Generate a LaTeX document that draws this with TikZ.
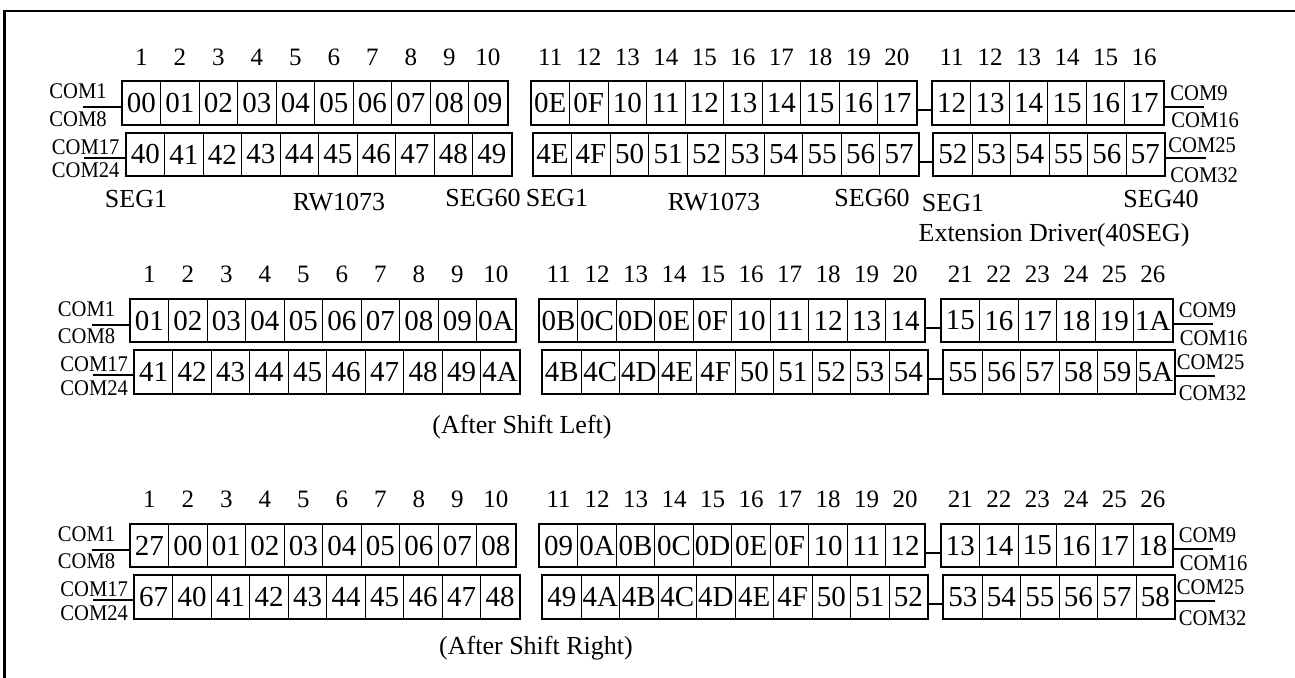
\documentclass[tikz,border=0pt]{standalone}
\usepackage{fontspec}
\setmainfont{Liberation Serif}
\newfontfamily\comfont[FakeStretch=0.92]{Liberation Serif}
\usetikzlibrary{positioning,fit}

% one row of display RAM cells: name, left x, top y, last cell, texts
\newcommand{\memrow}[5]{%
  \foreach \txt [count=\i] in {#5}
    \node[cell] (#1\i) at ({#2+(\i-0.5)*38.5},{#3+21.25}) {\txt};
  \node[rowbox,fit=(#11)(#1#4)] (#1) {};
}
% segment numbers above a row: row name, header name, numbers
\newcommand{\memhead}[3]{%
  \foreach \h [count=\i] in {#3}
    \node[hdr,above=7.75pt of #1\i] (#2\i) {\h};
}
% COM labels and wires of one section: section, top y, x shift
\newcommand{\comwires}[3]{%
  \node[com] (#1c1) at ({49+#3},{#2+17}) {COM1};
  \node[com] (#1c8) at ({49+#3},{#2+44.5}) {COM8};
  \node[com] (#1c17) at ({51.5+#3},{#2+72.5}) {COM17};
  \node[com] (#1c24) at ({51.5+#3},{#2+96}) {COM24};
  \node[com] (#1c9) at ({1170+#3},{#2+18.5}) {COM9};
  \node[com] (#1c16) at ({1171+#3},{#2+46}) {COM16};
  \node[com] (#1c25) at ({1168+#3},{#2+70.5}) {COM25};
  \node[com] (#1c32) at ({1170+#3},{#2+101}) {COM32};
  \coordinate (#1la) at ({83+#3},{#2+25.3});
  \coordinate (#1lb) at ({84+#3},{#2+76});
  \coordinate (#1ra) at ({1204+#3},{#2+25});
  \coordinate (#1rb) at ({1206+#3},{#2+76.5});
  \draw[wire] (#1la) -- (#1la -| #11a.west);
  \draw[wire] (#1lb) -- (#1lb -| #11b.west);
  \draw[wire] (#13a.east |- #1ra) -- (#1ra);
  \draw[wire] (#13b.east |- #1rb) -- (#1rb);
  \draw[wire] (#12a10.-20) -- (#13a1.200);
  \draw[wire] (#12b10.-20) -- (#13b1.200);
}

\begin{document}
\begin{tikzpicture}[x=0.5pt,y=-0.5pt,
  cell/.style={draw,line width=0.5pt,minimum width=19.25pt,minimum height=21.25pt,
    inner sep=0pt,font=\fontsize{14.5}{15}\selectfont},
  rowbox/.style={draw,line width=1pt,inner sep=0pt},
  hdr/.style={inner sep=0pt,font=\fontsize{12.5}{13}\selectfont},
  com/.style={inner sep=0pt,anchor=base west,font=\comfont\fontsize{11.2}{12}\selectfont},
  lbl/.style={inner sep=0pt,anchor=base,font=\fontsize{13}{14}\selectfont},
  wire/.style={line width=1pt}]
  \useasboundingbox (0,0) rectangle (1295,678);
  \draw[line width=1.25pt] (4.5,678) -- (4.5,11) -- (1295,11);

  % before shifting
  \memrow{A1a}{122}{81.7}{10}{00,01,02,03,04,05,06,07,08,09}
  \memrow{A1b}{126}{133.2}{10}{40,41,42,43,44,45,46,47,48,49}
  \memrow{A2a}{531}{81.7}{10}{0E,0F,10,11,12,13,14,15,16,17}
  \memrow{A2b}{533.3}{133.2}{10}{4E,4F,50,51,52,53,54,55,56,57}
  \memrow{A3a}{932.3}{81.7}{6}{12,13,14,15,16,17}
  \memrow{A3b}{933.7}{133.2}{6}{52,53,54,55,56,57}
  \memhead{A1a}{A1h}{1,...,10}
  \memhead{A2a}{A2h}{11,...,20}
  \memhead{A3a}{A3h}{11,...,16}
  \comwires{A}{81.7}{0}
  \node[lbl] (A1seg1) at (136,208) {SEG1};
  \node[lbl] (A1rw) at (339,211) {RW1073};
  \node[lbl] (A1seg60) at (483,207) {SEG60};
  \node[lbl] (A2seg1) at (557,207) {SEG1};
  \node[lbl] (A2rw) at (714,211) {RW1073};
  \node[lbl] (A2seg60) at (872,207) {SEG60};
  \node[lbl] (A3seg1) at (953,212) {SEG1};
  \node[lbl] (A3seg40) at (1161,208) {SEG40};
  \node[lbl] (A3drv) at (1054,242) {Extension Driver(40SEG)};

  % after shift left
  \memrow{L1a}{130}{299.3}{10}{01,02,03,04,05,06,07,08,09,0A}
  \memrow{L1b}{134.3}{350.8}{10}{41,42,43,44,45,46,47,48,49,4A}
  \memrow{L2a}{539.4}{299.3}{10}{0B,0C,0D,0E,0F,10,11,12,13,14}
  \memrow{L2b}{542.5}{350.8}{10}{4B,4C,4D,4E,4F,50,51,52,53,54}
  \memrow{L3a}{941}{299.3}{6}{15,16,17,18,19,1A}
  \memrow{L3b}{943.5}{350.8}{6}{55,56,57,58,59,5A}
  \memhead{L1a}{L1h}{1,...,10}
  \memhead{L2a}{L2h}{11,...,20}
  \memhead{L3a}{L3h}{21,...,26}
  \comwires{L}{299.3}{8.5}
  \node[lbl,anchor=center] (Lnote) at (522,427) {(After Shift Left)};

  % after shift right
  \memrow{R1a}{130}{524.3}{10}{27,00,01,02,03,04,05,06,07,08}
  \memrow{R1b}{134.3}{575.8}{10}{67,40,41,42,43,44,45,46,47,48}
  \memrow{R2a}{539.4}{524.3}{10}{09,0A,0B,0C,0D,0E,0F,10,11,12}
  \memrow{R2b}{542.5}{575.8}{10}{49,4A,4B,4C,4D,4E,4F,50,51,52}
  \memrow{R3a}{941}{524.3}{6}{13,14,15,16,17,18}
  \memrow{R3b}{943.5}{575.8}{6}{53,54,55,56,57,58}
  \memhead{R1a}{R1h}{1,...,10}
  \memhead{R2a}{R2h}{11,...,20}
  \memhead{R3a}{R3h}{21,...,26}
  \comwires{R}{524.3}{8.5}
  \node[lbl,anchor=center] (Rnote) at (536,648) {(After Shift Right)};
\end{tikzpicture}
\end{document}
